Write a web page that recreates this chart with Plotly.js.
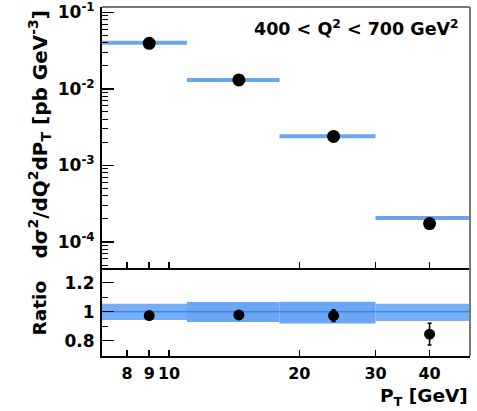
<!DOCTYPE html>
<html>
<head>
<meta charset="utf-8">
<script src="https://cdn.plot.ly/plotly-3.0.1.min.js"></script>
<style>html,body{margin:0;padding:0;background:#fff;}#plot{width:477px;height:411px;}</style>
</head>
<body>
<div id="plot"></div>
<script>
// ---- data ----
const binLo = [7, 11, 18, 30];
const binHi = [11, 18, 30, 50];
const ptX = [9, 14.5, 24, 40];
const xsec = [0.0394, 0.0131, 0.00239, 0.000174];
const model = [0.0400, 0.0131, 0.00240, 0.000206];
const ratio = [0.973, 0.977, 0.973, 0.845];
const ratioErr = [0.008, 0.008, 0.04, 0.075];
const bandLo = [0.942, 0.928, 0.918, 0.936];
const bandHi = [1.055, 1.066, 1.068, 1.054];
const xTickVals = [8, 9, 10, 20, 30, 40];
const xTickText = ['8', '9', '10', '20', '30', '40'];
const yTickVals = [1e-4, 1e-3, 1e-2, 1e-1];
const yTickText = ['10<sup>-4</sup>', '10<sup>-3</sup>', '10<sup>-2</sup>', '10<sup>-1</sup>'];
const rTickVals = [0.8, 1, 1.2];
const rTickText = ['0.8', '1', '1.2'];

// ---- build traces ----
const font = {family: 'DejaVu Sans, Liberation Sans, Arial, sans-serif', color: '#000', weight: 'bold'};
const f = s => Object.assign({size: s}, font);

const mX = [], mY = [];
binLo.forEach((lo, i) => { mX.push(lo, binHi[i], null); mY.push(model[i], model[i], null); });

const bandColors = ['rgb(118,175,245)', 'rgb(106,166,243)', 'rgb(106,166,243)', 'rgb(118,175,245)'];
const bandTraces = binLo.map((lo, i) => ({
  x: [lo, binHi[i], binHi[i], lo, lo], y: [bandLo[i], bandLo[i], bandHi[i], bandHi[i], bandLo[i]],
  xaxis: 'x2', yaxis: 'y2', mode: 'lines', fill: 'toself', fillcolor: bandColors[i],
  line: {width: 0}, hoverinfo: 'skip', showlegend: false, type: 'scatter'
}));

const oneX = [binLo[0], binHi[binHi.length - 1]];

const traces = [
  {x: mX, y: mY, mode: 'lines', line: {color: '#6aa6ee', width: 4}, type: 'scatter', showlegend: false, connectgaps: false},
  {x: ptX, y: xsec, mode: 'markers', marker: {color: '#000', size: 13}, type: 'scatter', showlegend: false},
  ...bandTraces,
  {x: oneX, y: [1, 1], xaxis: 'x2', yaxis: 'y2', mode: 'lines', line: {color: '#4286e2', width: 1.5}, type: 'scatter', showlegend: false},
  {x: ptX, y: ratio, xaxis: 'x2', yaxis: 'y2', mode: 'markers', marker: {color: '#000', size: 11},
   error_y: {type: 'data', array: ratioErr, color: '#000', thickness: 1.5, width: 2}, type: 'scatter', showlegend: false}
];

const yMinor = [];
for (let e = -5; e <= -1; e++) for (let k = 2; k <= 9; k++) yMinor.push(k * Math.pow(10, e));

const xr = [Math.log10(7), Math.log10(49.6)];
const split = 88 / 349;

const layout = {
  width: 477, height: 411,
  margin: {l: 102, r: 7, t: 7, b: 55},
  paper_bgcolor: '#fff', plot_bgcolor: '#fff',
  showlegend: false,
  font: f(16),
  xaxis: {type: 'log', range: xr, domain: [0, 1], anchor: 'y', showticklabels: false,
    tickmode: 'array', tickvals: xTickVals, ticks: 'inside', ticklen: 6, tickwidth: 1.5, tickcolor: '#000',
    showgrid: false, zeroline: false, showline: true, linecolor: '#000', linewidth: 1.5},
  yaxis: {type: 'log', range: [-4.34, -0.93], domain: [split, 1], anchor: 'x',
    tickmode: 'array', tickvals: yTickVals, ticktext: yTickText, ticks: 'inside', ticklen: 12, tickwidth: 1.5, tickcolor: '#000',
    minor: {tickmode: 'array', tickvals: yMinor, ticks: 'inside', ticklen: 6, tickwidth: 1, tickcolor: '#000', showgrid: false},
    tickfont: f(17), ticklabelstandoff: 2,
    showgrid: false, zeroline: false, showline: true, linecolor: '#000', linewidth: 2},
  xaxis2: {type: 'log', range: xr, domain: [0, 1], anchor: 'y2',
    tickmode: 'array', tickvals: xTickVals, ticktext: xTickText, ticks: 'inside', ticklen: 6, tickwidth: 1.5, tickcolor: '#000',
    tickfont: f(16), ticklabelstandoff: 2, tickangle: 0,
    showgrid: false, zeroline: false, showline: true, linecolor: '#000', linewidth: 2},
  yaxis2: {range: [0.695, 1.3], domain: [0, split], anchor: 'x2',
    tickmode: 'array', tickvals: rTickVals, ticktext: rTickText, ticks: 'inside', ticklen: 12, tickwidth: 1.5, tickcolor: '#000',
    minor: {tickmode: 'array', tickvals: [0.7, 0.9, 1.1, 1.3], ticks: 'inside', ticklen: 6, tickwidth: 1, tickcolor: '#000', showgrid: false},
    tickfont: f(17), ticklabelstandoff: 2,
    showgrid: false, zeroline: false, showline: true, linecolor: '#000', linewidth: 2},
  shapes: [
    {type: 'line', xref: 'paper', yref: 'paper', x0: 0, x1: 1, y0: 1, y1: 1, line: {color: '#777', width: 2}},
    {type: 'line', xref: 'paper', yref: 'paper', x0: 1, x1: 1, y0: 0, y1: 1, line: {color: '#777', width: 2}}
  ],
  annotations: [
    {text: '400 &lt; Q<sup>2</sup> &lt; 700 GeV<sup>2</sup>', xref: 'paper', yref: 'paper', x: 0.975, y: 0.94,
     xanchor: 'right', yanchor: 'middle', showarrow: false, font: f(17.5)},
    {text: 'd\u03c3<sup>2</sup>/dQ<sup>2</sup>dP<sub>T</sub> [pb GeV<sup>-3</sup>]', xref: 'paper', yref: 'paper',
     x: -0.17, y: 0.636, textangle: -90, xanchor: 'center', yanchor: 'middle', showarrow: false,
     font: f(20)},
    {text: 'Ratio', xref: 'paper', yref: 'paper', x: -0.17, y: 0.1375, textangle: -90,
     xanchor: 'center', yanchor: 'middle', showarrow: false, font: f(18.5)},
    {text: 'P<sub>T</sub> [GeV]', xref: 'paper', yref: 'paper', x: 1, y: -0.117,
     xanchor: 'right', yanchor: 'middle', showarrow: false, font: f(18.5)}
  ]
};

Plotly.newPlot('plot', traces, layout, {staticPlot: true, displayModeBar: false});
</script>
</body>
</html>
